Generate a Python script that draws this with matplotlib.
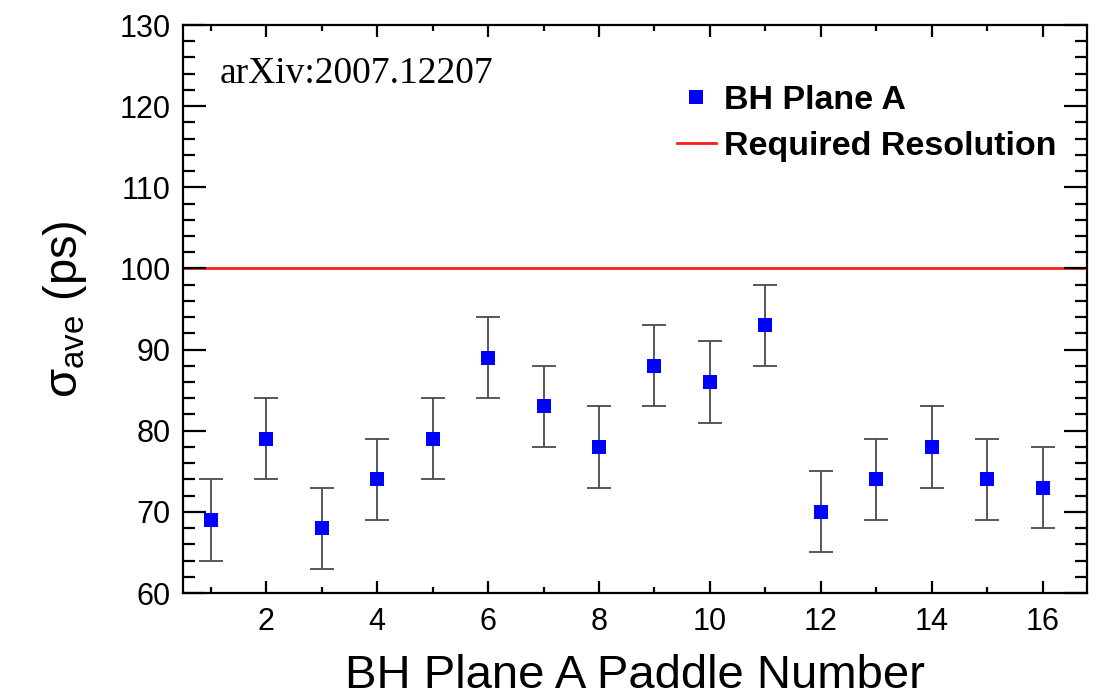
import matplotlib
matplotlib.use("Agg")
import matplotlib.pyplot as plt
from matplotlib.ticker import MultipleLocator
from matplotlib.lines import Line2D

plt.rcParams['font.family'] = ['Liberation Sans', 'DejaVu Sans']
plt.rcParams['mathtext.fontset'] = 'custom'
plt.rcParams['mathtext.rm'] = 'Liberation Sans'
plt.rcParams['mathtext.it'] = 'Liberation Sans:italic'
plt.rcParams['mathtext.bf'] = 'Liberation Sans:bold'

# Data
paddles = [1, 2, 3, 4, 5, 6, 7, 8, 9, 10, 11, 12, 13, 14, 15, 16]
sigma_ave = [69, 79, 68, 74, 79, 89, 83, 78, 88, 86, 93, 70, 74, 78, 74, 73]
sigma_err = [5, 5, 5, 5, 5, 5, 5, 5, 5, 5, 5, 5, 5, 5, 5, 5]
required_resolution = 100
series_label = "BH Plane A"
line_label = "Required Resolution"
x_label = "BH Plane A Paddle Number"
y_label = r"$\mathrm{\sigma}_{\mathrm{ave}}$ (ps)"
watermark = "arXiv:2007.12207"

fig = plt.figure(figsize=(11.04, 6.97), dpi=100)
ax = fig.add_axes([0.1658, 0.1492, 0.8188, 0.8149])

ax.errorbar(paddles, sigma_ave, yerr=sigma_err, fmt='none', ecolor='#4a4a4a',
            elinewidth=1.3, capsize=8.5, capthick=1.3, zorder=2)
ax.plot(paddles, sigma_ave, linestyle='none', marker='s', markersize=10.5,
        color='#0000ff', markeredgewidth=0, zorder=3)
ax.axhline(required_resolution, color='#ff1a1a', linewidth=2.0, zorder=1)

ax.set_xlim(0.5, 16.8)
ax.set_ylim(60, 130)
ax.xaxis.set_major_locator(MultipleLocator(2))
ax.xaxis.set_minor_locator(MultipleLocator(1))
ax.yaxis.set_major_locator(MultipleLocator(10))
ax.yaxis.set_minor_locator(MultipleLocator(2))

for s in ax.spines.values():
    s.set_linewidth(1.6)

ax.tick_params(axis='x', which='major', direction='in', length=8.5, width=1.6,
               top=True, labelsize=22, pad=10)
ax.tick_params(axis='x', which='minor', direction='in', length=4.3, width=1.6, top=True)
ax.tick_params(axis='y', which='major', direction='in', length=16.5, width=1.6,
               right=True, labelsize=22, pad=9)
ax.tick_params(axis='y', which='minor', direction='in', length=8.5, width=1.6, right=True)

ax.set_xlabel(x_label, fontsize=34, labelpad=12)
ax.set_ylabel(y_label, fontsize=34, labelpad=22)

handles = [
    Line2D([], [], linestyle='none', marker='s', markersize=10.5, color='#0000ff',
           markeredgewidth=0),
    Line2D([], [], color='#ff1a1a', linewidth=2.0),
]
leg = ax.legend(handles, [series_label, line_label], loc='upper left',
                bbox_to_anchor=(0.546, 0.895), frameon=False, borderpad=0,
                handlelength=1.15, handletextpad=0.25, labelspacing=0.45,
                prop={'weight': 'bold', 'size': 24.5}, borderaxespad=0)

ax.text(0.041, 0.945, watermark, transform=ax.transAxes, ha='left', va='top',
        fontsize=27, family=['Liberation Serif', 'DejaVu Serif'])

fig.savefig("out.png", dpi=100)
